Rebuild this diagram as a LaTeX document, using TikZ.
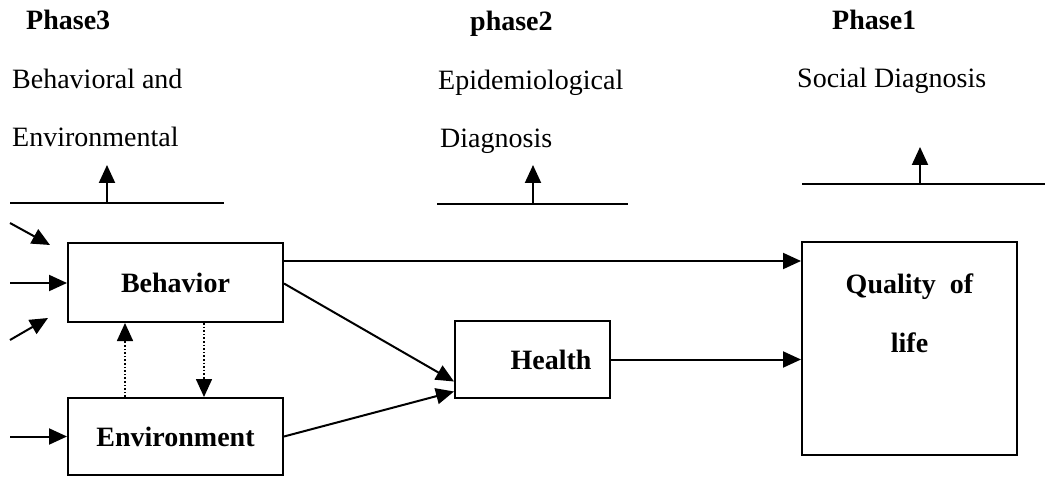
\documentclass[tikz,border=0pt]{standalone}
\usepackage{fontspec}
\setmainfont{Liberation Serif}
\usetikzlibrary{arrows.meta,calc}

\newcommand{\plainsize}{\fontsize{28}{34}\selectfont}

\tikzset{
  stagebox/.style={draw, line width=2pt, inner sep=0pt, font=\plainsize\bfseries},
  flow/.style={line width=2pt, -{Triangle[length=18pt,width=16pt]}},
  linkflow/.style={line width=1.6pt, dotted, -{Triangle[length=18pt,width=16pt]}},
  phaseline/.style={line width=2.8pt},
  heading/.style={anchor=base west, inner sep=0pt, font=\plainsize\bfseries},
  caption/.style={anchor=base west, inner sep=0pt, font=\plainsize},
  boxtext/.style={anchor=base, inner sep=0pt, font=\plainsize\bfseries},
}

\begin{document}
\begin{tikzpicture}[x=1pt, y=-1pt]
\useasboundingbox (0,0) rectangle (1048,478);

% phase headings
\node[heading] (p3) at (26,30) {Phase3};
\node[heading] (p2) at (470,31) {phase2};
\node[heading] (p1) at (832,30) {Phase1};

\node[caption] (p3a) at (12,89) {Behavioral and};
\node[caption] (p3b) at (12,147) {Environmental};
\node[caption] (p2a) at (438,90) {Epidemiological};
\node[caption] (p2b) at (440,148) {Diagnosis};
\node[caption] (p1a) at (797,88) {Social Diagnosis};

% phase bars with upward arrows
\coordinate (l3a) at (10,203);  \coordinate (l3b) at (224,203);
\coordinate (l2a) at (437,204); \coordinate (l2b) at (628,204);
\coordinate (l1a) at (802,184); \coordinate (l1b) at (1045,184);
\draw[phaseline] (l3a) -- (l3b);
\draw[phaseline] (l2a) -- (l2b);
\draw[phaseline] (l1a) -- (l1b);

\coordinate (u3) at (107,165);
\coordinate (u2) at (533,165);
\coordinate (u1) at (920,147);
\draw[flow] (u3 |- l3a) -- (u3);
\draw[flow] (u2 |- l2a) -- (u2);
\draw[flow] (u1 |- l1a) -- (u1);

% boxes
\node[stagebox, minimum width=215pt, minimum height=79pt] (beh) at (175.5,282.5) {Behavior};
\node[stagebox, minimum width=215pt, minimum height=77pt] (env) at (175.5,436.5) {Environment};
\node[stagebox, minimum width=155pt, minimum height=77pt] (hea) at (532.5,359.5) {\hspace*{37pt}Health};
\node[stagebox, minimum width=215pt, minimum height=213pt] (qol) at (909.5,348.5) {};
\node[boxtext] (qolA) at (909.5,293) {Quality\ \ of};
\node[boxtext] (qolB) at (909.5,352) {life};

% inputs on the left
\coordinate (i1) at (10,223); \coordinate (i1e) at (50,245);
\coordinate (i2) at (10,283);
\coordinate (i3) at (10,340); \coordinate (i3e) at (48,318);
\coordinate (i4) at (10,436.5);
\draw[flow] (i1) -- (i1e);
\draw[flow] (i2) -- (i2 -| beh.west);
\draw[flow] (i3) -- (i3e);
\draw[flow] (i4) -- (env.west);

% links between behaviour and environment
\draw[linkflow] (env.north -| 125,0) -- (beh.south -| 125,0);
\draw[linkflow] (beh.south -| 204,0) -- (env.north -| 204,0);

% flows towards health and quality of life
\draw[flow] (beh.east |- 0,261) -- (qol.west |- 0,261);
\draw[flow] ([yshift=-1pt]beh.east) -- ([yshift=-22pt]hea.west);
\draw[flow] (env.east) -- ([yshift=-32pt]hea.west);
\draw[flow] (hea.east) -- (qol.west |- hea.east);

\end{tikzpicture}
\end{document}
